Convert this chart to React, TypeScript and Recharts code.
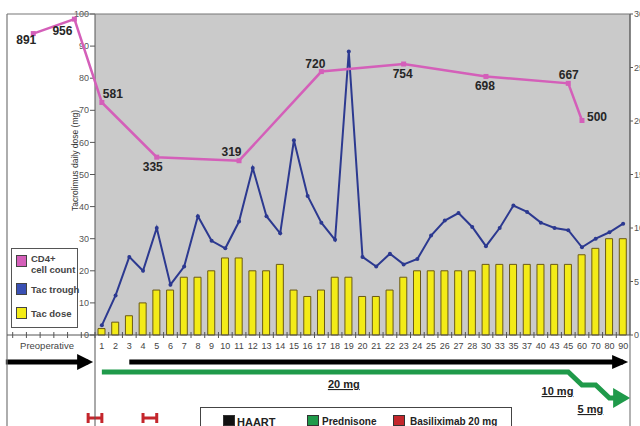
import React from 'react';
import { ComposedChart, LineChart, Bar, Line, XAxis, YAxis, CartesianGrid } from 'recharts';

const FONT = '"Liberation Sans", Arial, Helvetica, sans-serif';

// Days after transplantation (the axis is not linear after day 28)
const dayLabels = ['1', '2', '3', '4', '5', '6', '7', '8', '9', '10', '11', '12', '13', '14', '15', '16', '17', '18', '19', '20', '21', '22', '23', '24', '25', '26', '27', '28', '30', '33', '35', '37', '40', '43', '45', '60', '70', '80', '90'];
// Slots left of day 1, used for the preoperative period
const preopSlots = ['p1', 'p2', 'p3', 'p4', 'p5', 'p6', 'p7'];
const preopCaption = 'Preoperative';
const preopCaptionSlot = 'p4';

// Tacrolimus daily dose (mg)
const tacDoseMg = [2, 4, 6, 10, 14, 14, 18, 18, 20, 24, 24, 20, 20, 22, 14, 12, 14, 18, 18, 12, 12, 14, 18, 20, 20, 20, 20, 20, 22, 22, 22, 22, 22, 22, 22, 25, 27, 30, 30];
// Tacrolimus trough level (ng/mL, right axis)
const tacTroughNgMl = [0.9, 3.7, 7.3, 6.0, 10.0, 4.7, 6.4, 11.1, 8.8, 8.1, 10.6, 15.6, 11.1, 9.5, 18.2, 13.0, 10.5, 8.9, 26.5, 7.3, 6.4, 7.6, 6.6, 7.1, 9.3, 10.7, 11.4, 10.1, 8.3, 10.0, 12.1, 11.5, 10.5, 10.0, 9.8, 8.2, 9.0, 9.6, 10.4];

// CD4+ cell counts (cells/uL)
const cd4PreopSlots = ['p3', 'p6'];
const cd4PreopCounts = [891, 956];
const cd4Days = ['1', '5', '11', '17', '23', '30', '45', '60'];
const cd4Counts = [581, 335, 319, 720, 754, 698, 667, 500];

// Treatments
const haartStartDay = '3';
const prednisoneDoseMg = [20, 20, 20, 20, 20, 20, 20, 20, 20, 20, 20, 20, 20, 20, 20, 20, 20, 20, 20, 20, 20, 20, 20, 20, 20, 20, 20, 20, 20, 20, 20, 20, 20, 20, 20, 10, 10, 5, 5];
const prednisoneLabelDays = ['19', '60', '80'];
const basiliximabSpans: [string, string][] = [['p7', '1'], ['4', '5']];

// ---- layout ----
const W = 640;
const H = 426;
const PLOT_LEFT = 95;
const PLOT_RIGHT = 630;
const PLOT_TOP = 14;
const PLOT_BOTTOM = 335;
const FRAME_LEFT = 7;
const ALL_SLOTS = [...preopSlots, ...dayLabels];
const SLOT_W = (PLOT_RIGHT - PLOT_LEFT) / dayLabels.length;
const WIDE_LEFT = PLOT_RIGHT - SLOT_W * ALL_SLOTS.length;
const SHIFT = 20; // overlay charts start this far left of the page
const CD4_DOMAIN: [number, number] = [-465, 979];
const HAART_LANE = 1;
const BASILIXIMAB_LANE = 0;

const PINK = '#d45fb9';
const NAVY = '#2c3990';
const YELLOW = '#f3eb17';
const GREEN = '#1f9a4a';
const RED = '#c4262c';

const mainRows = dayLabels.map((day, i) => ({ day, dose: tacDoseMg[i], trough: tacTroughNgMl[i] }));

const cd4Rows = ALL_SLOTS.map((slot) => {
  const pi = cd4PreopSlots.indexOf(slot);
  const di = cd4Days.indexOf(slot);
  return { slot, cd4: pi >= 0 ? cd4PreopCounts[pi] : di >= 0 ? cd4Counts[di] : null };
});

const haartFrom = dayLabels.indexOf(haartStartDay);
const laneRows = ALL_SLOTS.map((slot) => {
  const di = dayLabels.indexOf(slot);
  return {
    slot,
    preHaart: preopSlots.includes(slot) ? HAART_LANE : null,
    haart: di >= haartFrom ? HAART_LANE : null,
    bas: basiliximabSpans.some(([a, b]) => slot === a || slot === b) ? BASILIXIMAB_LANE : null,
  };
});

const predRows = ALL_SLOTS.map((slot) => {
  const di = dayLabels.indexOf(slot);
  return { slot, pred: di >= 0 ? prednisoneDoseMg[di] : null };
});

// label placement around each CD4 point: [dx, dy, anchor]
const cd4LabelPlace: Record<string, [number, number, 'start' | 'middle']> = {
  p3: [-7, 10, 'middle'],
  p6: [-12, 16, 'middle'],
  '1': [1, -4.5, 'start'],
  '5': [-4, 14, 'middle'],
  '11': [-7.5, -5, 'middle'],
  '17': [-6, -4, 'middle'],
  '23': [-1, 14, 'middle'],
  '30': [-1, 13.5, 'middle'],
  '45': [0.5, -4, 'middle'],
  '60': [5, 1, 'start'],
};

const predLabelPlace: Record<string, [number, number]> = {
  '19': [-5, 16],
  '60': [-24.5, 10],
  '80': [-19, 15],
};

const renderCd4Dot = (p: any) => {
  const { cx, cy, payload, index } = p;
  const key = `cd4-${index}`;
  if (cx == null || cy == null || payload == null || payload.cd4 == null) return <g key={key} />;
  const place = cd4LabelPlace[payload.slot] || [0, -5, 'middle'];
  return (
    <g key={key}>
      <rect x={cx - 2.5} y={cy - 2.5} width={5} height={5} fill={PINK} />
      <text x={cx + place[0]} y={cy + place[1]} textAnchor={place[2]} fontSize={12} fontWeight="bold" fill="#262626" fontFamily={FONT}>
        {payload.cd4}
      </text>
    </g>
  );
};

const renderSlotTick = (p: any) => {
  const { x, y, payload } = p;
  const v = String(payload.value);
  const isPre = preopSlots.includes(v);
  const text = isPre ? (v === preopCaptionSlot ? preopCaption : '') : v;
  const axisY = y - 8;
  const bx = x - SLOT_W / 2;
  return (
    <g>
      {bx - SHIFT > FRAME_LEFT + 1 && <line x1={bx} x2={bx} y1={axisY - 3} y2={axisY + 3} stroke="#555" strokeWidth={1} />}
      {text && (
        <text x={x} y={y + 6} textAnchor="middle" fontSize={isPre ? 9.5 : 9} fill="#444" fontFamily={FONT}>
          {text}
        </text>
      )}
    </g>
  );
};

const arrowDot = (lastSlot: string, color: string, back: number, tip: number, half: number) => (p: any) => {
  const { cx, cy, payload, index } = p;
  const key = `arr-${lastSlot}-${index}`;
  if (cx == null || cy == null || payload == null || payload.slot !== lastSlot) return <g key={key} />;
  return <polygon key={key} points={`${cx - back},${cy - half} ${cx + tip},${cy} ${cx - back},${cy + half}`} fill={color} />;
};

const basDot = (p: any) => {
  const { cx, cy, payload, index } = p;
  const key = `bas-${index}`;
  if (cx == null || cy == null || payload == null || payload.bas == null) return <g key={key} />;
  return <rect key={key} x={cx - 1.5} y={cy - 5} width={3} height={10} fill={RED} />;
};

const predDot = (p: any) => {
  const { cx, cy, payload, index } = p;
  const key = `pred-${index}`;
  if (cx == null || cy == null || payload == null) return <g key={key} />;
  const parts: React.ReactNode[] = [];
  if (payload.slot === dayLabels[dayLabels.length - 1]) {
    parts.push(<polygon key="h" points={`${cx - 10},${cy - 10} ${cx + 7},${cy} ${cx - 10},${cy + 10}`} fill={GREEN} />);
  }
  if (prednisoneLabelDays.includes(payload.slot)) {
    const pl = predLabelPlace[payload.slot];
    parts.push(
      <text key="t" x={cx + pl[0]} y={cy + pl[1]} textAnchor="middle" fontSize={11} fontWeight="bold" fill="#222" fontFamily={FONT} style={{ textDecoration: 'underline' }}>
        {`${payload.pred} mg`}
      </text>
    );
  }
  return <g key={key}>{parts}</g>;
};

const axisTitle = (props: any) => {
  const vb = props.viewBox || {};
  const x = (vb.x ?? 0) + (vb.width ?? PLOT_LEFT) - 20;
  const y = (vb.y ?? PLOT_TOP) + (vb.height ?? PLOT_BOTTOM - PLOT_TOP) / 2 - 14;
  return (
    <text x={x} y={y} transform={`rotate(-90 ${x} ${y})`} textAnchor="middle" dominantBaseline="central" fontSize={8.5} fill="#333" fontFamily={FONT}>
      Tacrolimus daily dose (mg)
    </text>
  );
};

const seriesLegend = [
  { lines: ['CD4+', 'cell count'], color: PINK, top: 255, textTop: 252.5 },
  { lines: ['Tac trough'], color: '#3a50b4', top: 283, textTop: 283.5 },
  { lines: ['Tac dose'], color: YELLOW, top: 307, textTop: 308 },
];

const treatmentLegend = [
  { name: 'HAART', color: '#111', x: 223, tx: 237, size: 11 },
  { name: 'Prednisone', color: GREEN, x: 307, tx: 322, size: 10 },
  { name: 'Basiliximab 20 mg', color: RED, x: 393, tx: 410, size: 10 },
];

const wideMargin = (top: number, bottom: number) => ({
  top,
  bottom,
  left: WIDE_LEFT + SHIFT,
  right: W + SHIFT - (PLOT_RIGHT + SHIFT),
});

const abs = (left: number, top: number): React.CSSProperties => ({ position: 'absolute', left, top });

export default function App() {
  return (
    <div style={{ position: 'absolute', left: 0, top: 0, width: W, height: H, overflow: 'hidden', background: '#fff', fontFamily: FONT }}>
      {/* tacrolimus dose bars and trough levels */}
      <div style={abs(0, 0)}>
        <ComposedChart width={W} height={H} data={mainRows} margin={{ top: PLOT_TOP, right: 0, bottom: H - PLOT_BOTTOM, left: 0 }}>
          <CartesianGrid fill="#cacaca" stroke="none" horizontal={false} vertical={false} />
          <XAxis dataKey="day" hide scale="band" />
          <YAxis
            width={PLOT_LEFT}
            type="number"
            domain={[0, 100]}
            ticks={[0, 10, 20, 30, 40, 50, 60, 70, 80, 90, 100]}
            tick={{ fontSize: 9, fill: '#555', fontFamily: FONT }}
            tickSize={5}
            tickMargin={1}
            axisLine={{ stroke: '#555' }}
            tickLine={{ stroke: '#555' }}
            label={axisTitle}
          />
          <YAxis
            yAxisId="right"
            orientation="right"
            width={W - PLOT_RIGHT}
            type="number"
            domain={[0, 30]}
            ticks={[0, 5, 10, 15, 20, 25, 30]}
            tick={{ fontSize: 9, fill: '#555', fontFamily: FONT }}
            tickSize={3}
            tickMargin={1}
            axisLine={{ stroke: '#555' }}
            tickLine={{ stroke: '#555' }}
          />
          <Bar dataKey="dose" barSize={7} fill={YELLOW} stroke="#6b5a14" strokeWidth={1} isAnimationActive={false} />
          <Line yAxisId="right" dataKey="trough" stroke={NAVY} strokeWidth={2} dot={{ r: 2, fill: NAVY, stroke: NAVY, strokeWidth: 0 }} isAnimationActive={false} />
        </ComposedChart>
      </div>

      {/* CD4 counts and the day axis */}
      <div style={abs(-SHIFT, 0)}>
        <LineChart width={W + SHIFT} height={H} data={cd4Rows} margin={wideMargin(PLOT_TOP, H - PLOT_BOTTOM - 30)}>
          <XAxis dataKey="slot" scale="band" interval={0} height={30} tickSize={6} tickMargin={2} axisLine={false} tickLine={false} tick={renderSlotTick} />
          <YAxis yAxisId="cd4" hide type="number" domain={CD4_DOMAIN} />
          <Line yAxisId="cd4" dataKey="cd4" connectNulls stroke={PINK} strokeWidth={2.5} dot={renderCd4Dot} isAnimationActive={false} />
        </LineChart>
      </div>

      {/* HAART and basiliximab lanes */}
      <div style={abs(-SHIFT, 0)}>
        <LineChart width={W + SHIFT} height={H} data={laneRows} margin={wideMargin(362, H - 418)}>
          <XAxis dataKey="slot" scale="band" hide />
          <YAxis yAxisId="lane" hide type="number" domain={[0, 1]} />
          <Line yAxisId="lane" dataKey="preHaart" stroke="#000" strokeWidth={5} dot={arrowDot(preopSlots[preopSlots.length - 1], '#000', 11, 5, 8)} isAnimationActive={false} />
          <Line yAxisId="lane" dataKey="haart" stroke="#000" strokeWidth={5} dot={arrowDot(dayLabels[dayLabels.length - 1], '#000', 11, 5, 7)} isAnimationActive={false} />
          <Line yAxisId="lane" dataKey="bas" stroke={RED} strokeWidth={3} dot={basDot} isAnimationActive={false} />
        </LineChart>
      </div>

      {/* prednisone taper */}
      <div style={abs(-SHIFT, 0)}>
        <LineChart width={W + SHIFT} height={H} data={predRows} margin={wideMargin(372, H - 398)}>
          <XAxis dataKey="slot" scale="band" hide />
          <YAxis yAxisId="dose" hide type="number" scale="log" domain={[5, 20]} />
          <Line yAxisId="dose" dataKey="pred" stroke={GREEN} strokeWidth={5} strokeLinejoin="miter" dot={predDot} isAnimationActive={false} />
        </LineChart>
      </div>

      {/* frame */}
      <svg width={W} height={H} style={{ position: 'absolute', left: 0, top: 0, pointerEvents: 'none' }}>
        <line x1={FRAME_LEFT} x2={PLOT_RIGHT} y1={PLOT_TOP} y2={PLOT_TOP} stroke="#777" strokeWidth={1.2} />
        <line x1={FRAME_LEFT} x2={FRAME_LEFT} y1={PLOT_TOP} y2={H} stroke="#777" strokeWidth={1.2} />
        <line x1={PLOT_RIGHT} x2={PLOT_RIGHT} y1={PLOT_TOP} y2={H} stroke="#666" strokeWidth={1} />
        <line x1={FRAME_LEFT} x2={PLOT_RIGHT} y1={PLOT_BOTTOM} y2={PLOT_BOTTOM} stroke="#555" strokeWidth={1} />
        <line x1={PLOT_LEFT} x2={PLOT_LEFT} y1={PLOT_BOTTOM} y2={H} stroke="#555" strokeWidth={1} />
      </svg>

      {/* series legend */}
      <div style={{ ...abs(11, 248), width: 67, height: 80, border: '1px solid #555', background: '#fff', boxSizing: 'border-box' }} />
      {seriesLegend.map((s) => (
        <React.Fragment key={s.lines[0]}>
          <div style={{ ...abs(16, s.top), width: 11, height: 12, background: s.color, border: '1px solid #444', boxSizing: 'border-box' }} />
          <div style={{ ...abs(31, s.textTop), fontSize: 9.5, lineHeight: '11px', fontWeight: 'bold', color: '#444', whiteSpace: 'nowrap' }}>
            {s.lines.map((l) => (
              <div key={l}>{l}</div>
            ))}
          </div>
        </React.Fragment>
      ))}

      {/* treatment legend */}
      <div style={{ ...abs(200, 407), width: 312, height: 30, border: '1px solid #444', background: '#fff', boxSizing: 'border-box' }} />
      {treatmentLegend.map((t) => (
        <React.Fragment key={t.name}>
          <div style={{ ...abs(t.x, 415), width: 12, height: 11, background: t.color, border: '1px solid #333', boxSizing: 'border-box' }} />
          <div style={{ ...abs(t.tx, 415.5), fontSize: t.size, lineHeight: '12px', fontWeight: 'bold', color: '#222', whiteSpace: 'nowrap' }}>{t.name}</div>
        </React.Fragment>
      ))}
    </div>
  );
}
